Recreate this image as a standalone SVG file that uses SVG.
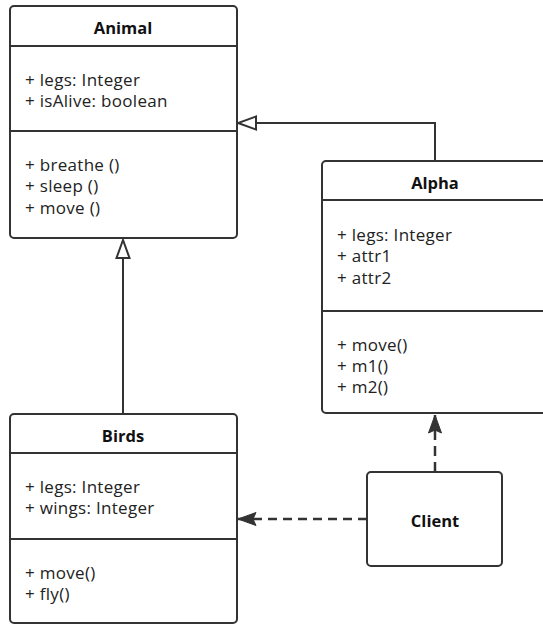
<svg xmlns="http://www.w3.org/2000/svg" width="543" height="627" viewBox="0 0 543 627">
<defs>
<style>
.box{fill:#fff;stroke:#333;stroke-width:2}
.div{stroke:#333;stroke-width:2}
.t{font-family:"Open Sans","Noto Sans",sans-serif;font-size:17px;letter-spacing:0.3px;fill:#222}
.h{font-family:"Open Sans","Noto Sans",sans-serif;font-size:16.5px;font-weight:bold;fill:#111;text-anchor:middle}
.line{fill:none;stroke:#333;stroke-width:2}
.dash{fill:none;stroke:#333;stroke-width:2.5;stroke-dasharray:9 6}
</style>
<marker id="tri" markerWidth="22" markerHeight="16" refX="20" refY="8" orient="auto" markerUnits="userSpaceOnUse">
<path d="M20,8 L2,1.5 L2,14.5 Z" fill="#fff" stroke="#333" stroke-width="2"/>
</marker>
<marker id="fill" markerWidth="22" markerHeight="16" refX="20" refY="8" orient="auto" markerUnits="userSpaceOnUse">
<path d="M20,8 L2,1.5 L5,8 L2,14.5 Z" fill="#333" stroke="#333" stroke-width="1"/>
</marker>
</defs>
<g id="animal">
<rect class="box" x="10" y="6" width="227" height="232" rx="4"/>
<line class="div" x1="10" y1="46" x2="237" y2="46"/>
<line class="div" x1="10" y1="131" x2="237" y2="131"/>
<text class="h" x="123" y="34">Animal</text>
<text class="t" x="25" y="86">+ legs: Integer</text>
<text class="t" x="25" y="107">+ isAlive: boolean</text>
<text class="t" x="25" y="171">+ breathe ()</text>
<text class="t" x="25" y="192">+ sleep ()</text>
<text class="t" x="25" y="214">+ move ()</text>
</g>
<g id="alpha">
<rect class="box" x="322" y="161" width="227" height="252" rx="4"/>
<line class="div" x1="322" y1="200" x2="549" y2="200"/>
<line class="div" x1="322" y1="311" x2="549" y2="311"/>
<text class="h" x="435" y="189">Alpha</text>
<text class="t" x="337" y="241">+ legs: Integer</text>
<text class="t" x="337" y="262">+ attr1</text>
<text class="t" x="337" y="284">+ attr2</text>
<text class="t" x="337" y="351">+ move()</text>
<text class="t" x="337" y="372">+ m1()</text>
<text class="t" x="337" y="393">+ m2()</text>
</g>
<g id="birds">
<rect class="box" x="10" y="414" width="227" height="209" rx="4"/>
<line class="div" x1="10" y1="453" x2="237" y2="453"/>
<line class="div" x1="10" y1="539" x2="237" y2="539"/>
<text class="h" x="123" y="442">Birds</text>
<text class="t" x="25" y="493">+ legs: Integer</text>
<text class="t" x="25" y="514">+ wings: Integer</text>
<text class="t" x="25" y="579">+ move()</text>
<text class="t" x="25" y="600">+ fly()</text>
</g>
<g id="client">
<rect class="box" x="367" y="472" width="135" height="94" rx="4"/>
<text class="h" x="435" y="527">Client</text>
</g>
<g id="connectors">
<path class="line" d="M435,161 V123 H238" marker-end="url(#tri)"/>
<path class="line" d="M123,414 V240" marker-end="url(#tri)"/>
<path class="dash" d="M435,472 V415" marker-end="url(#fill)" style="stroke-dasharray:10 6"/>
<path class="dash" d="M367,519 H238" marker-end="url(#fill)"/>
</g>
</svg>
